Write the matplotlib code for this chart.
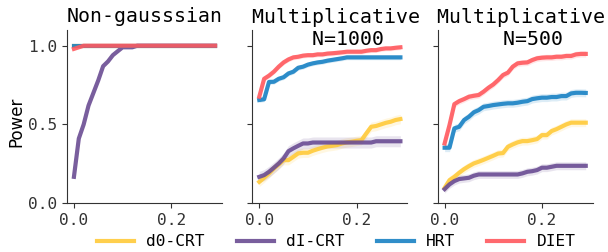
import matplotlib
matplotlib.use("Agg")
import matplotlib.pyplot as plt
import numpy as np

# ---------------- data ----------------
x = [round(0.01 * i, 2) for i in range(30)]

titles = ["Non-gausssian", " Multiplicative\n   N=1000", " Multiplicative\n   N=500"]
methods = ["d0-CRT", "dI-CRT", "HRT", "DIET"]
colors = ["#FFCA3A", "#6A4C93", "#1982C4", "#FF595E"]

# Panel 1: Non-gaussian
p1_d0 = [1.0] * 30
p1_dI = [0.167, 0.41, 0.50, 0.62, 0.70, 0.78, 0.87, 0.90, 0.94, 0.965,
         0.99, 0.99, 0.99, 1.0, 1.0, 1.0, 1.0, 1.0, 1.0, 1.0,
         1.0, 1.0, 1.0, 1.0, 1.0, 1.0, 1.0, 1.0, 1.0, 1.0]
p1_hrt = [1.0] * 30
p1_diet = [0.98, 0.99, 1.0, 1.0, 1.0, 1.0, 1.0, 1.0, 1.0, 1.0,
           1.0, 1.0, 1.0, 1.0, 1.0, 1.0, 1.0, 1.0, 1.0, 1.0,
           1.0, 1.0, 1.0, 1.0, 1.0, 1.0, 1.0, 1.0, 1.0, 1.0]

# Panel 2: Multiplicative N=1000
p2_d0 = [0.135, 0.161, 0.189, 0.22, 0.246, 0.273, 0.273, 0.294, 0.316, 0.32,
         0.32, 0.333, 0.343, 0.352, 0.36, 0.364, 0.369, 0.379, 0.386, 0.39,
         0.396, 0.40, 0.443, 0.485, 0.49, 0.50, 0.51, 0.517, 0.528, 0.534]
p2_dI = [0.167, 0.178, 0.199, 0.225, 0.252, 0.284, 0.33, 0.348, 0.364, 0.379,
         0.379, 0.385, 0.385, 0.385, 0.385, 0.385, 0.385, 0.385, 0.385, 0.385,
         0.385, 0.385, 0.385, 0.385, 0.393, 0.393, 0.393, 0.393, 0.393, 0.393]
p2_hrt = [0.655, 0.66, 0.77, 0.771, 0.79, 0.80, 0.824, 0.835, 0.86, 0.867,
          0.88, 0.888, 0.894, 0.898, 0.905, 0.91, 0.915, 0.92, 0.926, 0.926,
          0.926, 0.926, 0.926, 0.926, 0.926, 0.926, 0.926, 0.926, 0.926, 0.926]
p2_diet = [0.676, 0.79, 0.81, 0.835, 0.867, 0.894, 0.913, 0.926, 0.93, 0.937,
           0.94, 0.94, 0.945, 0.945, 0.95, 0.952, 0.955, 0.958, 0.962, 0.962,
           0.962, 0.962, 0.968, 0.972, 0.972, 0.979, 0.983, 0.983, 0.987, 0.99]

# Panel 3: Multiplicative N=500
p3_d0 = [0.097, 0.146, 0.167, 0.193, 0.216, 0.235, 0.252, 0.263, 0.275, 0.288,
         0.301, 0.315, 0.318, 0.358, 0.373, 0.386, 0.394, 0.394, 0.40, 0.407,
         0.432, 0.432, 0.458, 0.47, 0.485, 0.50, 0.511, 0.511, 0.511, 0.511]
p3_dI = [0.089, 0.119, 0.14, 0.153, 0.157, 0.161, 0.174, 0.182, 0.182, 0.182,
         0.182, 0.182, 0.182, 0.182, 0.182, 0.182, 0.189, 0.199, 0.203, 0.21,
         0.225, 0.225, 0.231, 0.237, 0.237, 0.237, 0.237, 0.237, 0.237, 0.237]
p3_hrt = [0.352, 0.352, 0.475, 0.485, 0.528, 0.549, 0.577, 0.591, 0.612, 0.617,
          0.623, 0.627, 0.631, 0.634, 0.634, 0.638, 0.644, 0.648, 0.661, 0.666,
          0.67, 0.67, 0.674, 0.674, 0.68, 0.68, 0.697, 0.701, 0.701, 0.70]
p3_diet = [0.379, 0.496, 0.629, 0.648, 0.661, 0.676, 0.682, 0.687, 0.708, 0.733,
           0.754, 0.782, 0.814, 0.829, 0.867, 0.888, 0.892, 0.894, 0.909, 0.92,
           0.924, 0.926, 0.926, 0.93, 0.93, 0.935, 0.935, 0.945, 0.948, 0.948]

panels = [
    [p1_d0, p1_dI, p1_hrt, p1_diet],
    [p2_d0, p2_dI, p2_hrt, p2_diet],
    [p3_d0, p3_dI, p3_hrt, p3_diet],
]
# confidence band half-widths (per panel, per method)
ci = [
    [0.0, 0.0, 0.0, 0.0],
    [0.03, 0.035, 0.015, 0.015],
    [0.025, 0.025, 0.025, 0.02],
]

xticks = [0.0, 0.2]
yticks = [0.0, 0.5, 1.0]

# ---------------- plot ----------------
mono = "DejaVu Sans Mono"
plt.rcParams["axes.edgecolor"] = "#333333"
plt.rcParams["xtick.color"] = "#333333"
plt.rcParams["ytick.color"] = "#333333"

fig, axes = plt.subplots(1, 3, figsize=(6.08, 2.52), dpi=100, sharey=True)
fig.subplots_adjust(left=0.110, right=0.975, bottom=0.194, top=0.881, wspace=0.194)

xa = np.array(x)
handles = []
title_y = [1.045, 0.913, 0.913]
for pi, ax in enumerate(axes):
    for mi, (series, col) in enumerate(zip(panels[pi], colors)):
        s = np.array(series)
        if ci[pi][mi] > 0:
            ax.fill_between(xa, s - ci[pi][mi], s + ci[pi][mi], color=col,
                            alpha=0.15, linewidth=0)
        (ln,) = ax.plot(xa, s, color=col, lw=3.0, alpha=0.9, label=methods[mi])
        if pi == 0:
            handles.append(ln)
    ax.set_ylim(0, 1.1)
    ax.set_xticks(xticks)
    ax.set_yticks(yticks)
    ax.spines["top"].set_visible(False)
    ax.spines["right"].set_visible(False)
    for lab in ax.get_xticklabels() + ax.get_yticklabels():
        lab.set_fontfamily(mono)
        lab.set_fontsize(11.6)
    ax.text(0.5, title_y[pi], titles[pi], transform=ax.transAxes, ha="center",
            va="baseline", fontfamily=mono, fontsize=14.3, linespacing=1.2)

axes[0].set_ylabel("Power", fontsize=12)
axes[0].yaxis.set_label_coords(-0.27, 0.47)

fig.legend(handles, methods, loc="center", bbox_to_anchor=(0.553, 0.04), ncol=4,
           frameon=False, handlelength=2.3, handletextpad=0.75, columnspacing=2.0,
           prop={"family": mono, "size": 11.6})

fig.savefig("out.png", dpi=100)
